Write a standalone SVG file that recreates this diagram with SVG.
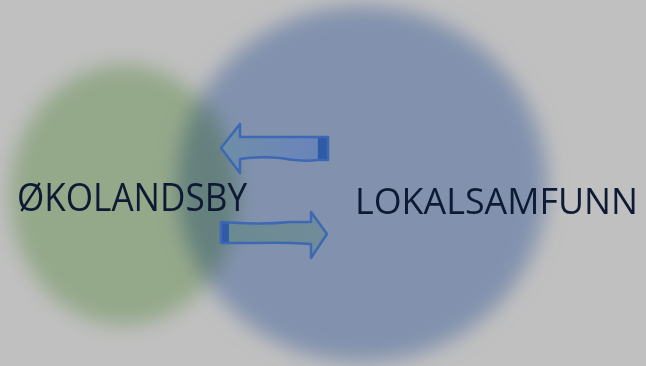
<svg xmlns="http://www.w3.org/2000/svg" width="646" height="366" viewBox="0 0 646 366">
<style>
.lbl{font-family:"Open Sans","Liberation Sans",sans-serif;font-size:38px;fill:#0e1a33}
.arr{stroke:#3c68b4;stroke-width:2.5;stroke-linejoin:round}
</style>
<defs>
<filter id="blur" x="-30%" y="-30%" width="160%" height="160%"><feGaussianBlur stdDeviation="10"/></filter>
<linearGradient id="gl" x1="0" y1="0" x2="1" y2="0">
<stop offset="0" stop-color="#6f8ea6"/><stop offset="0.7" stop-color="#6c86b8"/><stop offset="0.9" stop-color="#6a84b8"/><stop offset="0.91" stop-color="#2f5aa6"/><stop offset="1" stop-color="#2f5aa6"/>
</linearGradient>
<linearGradient id="gr" x1="0" y1="0" x2="1" y2="0">
<stop offset="0" stop-color="#2f5aa6"/><stop offset="0.07" stop-color="#2f5aa6"/><stop offset="0.08" stop-color="#6a8a92"/><stop offset="1" stop-color="#728c9a"/>
</linearGradient>
</defs>
<rect width="646" height="366" fill="#c0c0c0"/>
<g id="lokalsamfunn-circle">
<ellipse cx="362" cy="184" rx="185" ry="178" fill="#8292ae" filter="url(#blur)"/>
</g>
<g id="okolandsby-circle" style="mix-blend-mode:multiply">
<ellipse cx="124" cy="195" rx="114" ry="130" fill="#c5e0b7" filter="url(#blur)"/>
</g>
<g id="connectors">
<path class="arr" fill="url(#gl)" d="M221,148 L240,124 L240,137 L328,137 L328,160 L318,160 Q300,162 280,158 Q260,156 240,159 L240,173 Z"/>
<path class="arr" fill="url(#gr)" d="M221,222 Q260,225 290,222 L311,222 L311,212 L327,234 L311,258 L311,244 Q280,242 260,243 L221,243 Z"/>
</g>
<g id="okolandsby"><text class="lbl" x="17" y="211" textLength="230" lengthAdjust="spacingAndGlyphs">ØKOLANDSBY</text></g>
<g id="lokalsamfunn"><text class="lbl" x="355" y="214" style="font-size:36px" textLength="283" lengthAdjust="spacingAndGlyphs">LOKALSAMFUNN</text></g>
</svg>
